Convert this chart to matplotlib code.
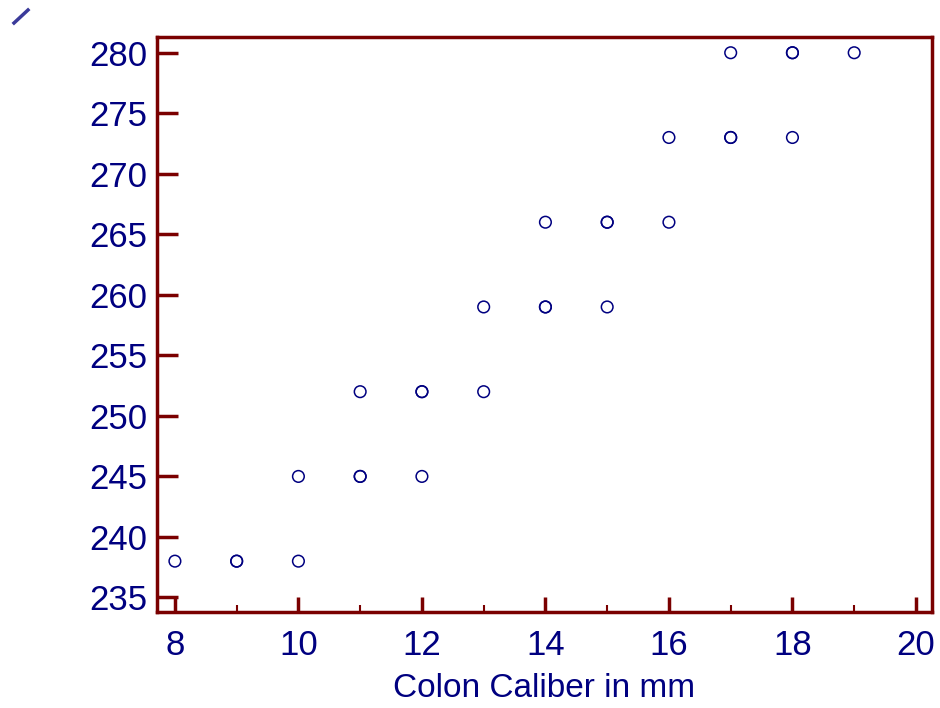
import numpy as np
from matplotlib import pyplot as plt
from matplotlib.lines import Line2D
from matplotlib.ticker import MultipleLocator

# colon caliber (mm) vs. value, duplicates overplotted as in the original
caliber = [8, 9, 9, 10, 10, 11, 11, 11, 12, 12, 12, 13, 13, 14, 14, 14,
           15, 15, 15, 16, 16, 17, 17, 17, 18, 18, 18, 19]
value = [238, 238, 238, 238, 245, 245, 245, 252, 245, 252, 252, 252, 259, 259, 259, 266,
         259, 266, 266, 266, 273, 273, 273, 280, 273, 280, 280, 280]

navy = "#000080"
maroon = "#7a0000"

plt.rcParams["font.family"] = ["Liberation Sans", "DejaVu Sans"]

fig = plt.figure(figsize=(9.4, 7.08), dpi=100)
ax = fig.add_axes([157/940, 1 - 612/708, (932-157)/940, (612-37)/708])

ax.scatter(caliber, value, s=70, facecolors="none", edgecolors=navy, linewidths=1.1, zorder=3)

ax.set_xlim(7.71, 20.26)
ax.set_ylim(233.8, 281.3)
ax.xaxis.set_major_locator(MultipleLocator(2))
ax.xaxis.set_minor_locator(MultipleLocator(1))
ax.yaxis.set_major_locator(MultipleLocator(5))

for s in ax.spines.values():
    s.set_color(maroon)
    s.set_linewidth(2.5)

ax.tick_params(axis="both", which="both", direction="in", color=maroon, labelcolor=navy, labelsize=25)
ax.tick_params(axis="x", which="major", length=11, width=2.5, pad=12)
ax.tick_params(axis="x", which="minor", length=5, width=1.5)
ax.tick_params(axis="y", which="major", length=15, width=2.5, pad=7)
ax.tick_params(top=False, right=False)

ax.set_xlabel("Colon Caliber in mm", fontsize=24, color=navy, labelpad=8)

# small stray mark in the top-left corner
fig.add_artist(Line2D([14/940, 28/940], [1 - 23/708, 1 - 10/708], color="#3a3a9a", lw=2.5))

plt.savefig("out.png", dpi=100)
